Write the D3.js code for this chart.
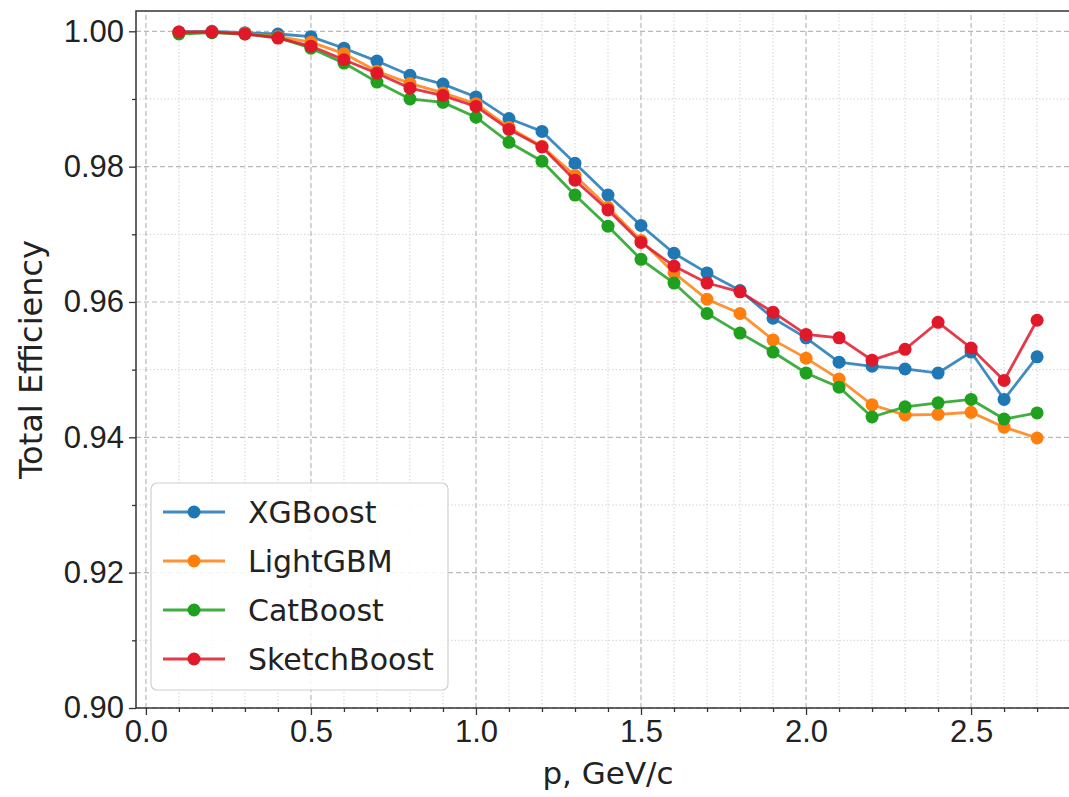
<!DOCTYPE html>
<html>
<head>
<meta charset="utf-8">
<script src="https://cdn.jsdelivr.net/npm/d3@7"></script>
<style>
  body { margin: 0; background: #fff; }
  svg { display: block; font-family: "DejaVu Sans", sans-serif; }
</style>
</head>
<body>
<div class="o"></div>
<script>
const pValues = [0.1, 0.2, 0.3, 0.4, 0.5, 0.6, 0.7, 0.8, 0.9, 1.0, 1.1, 1.2, 1.3, 1.4,
  1.5, 1.6, 1.7, 1.8, 1.9, 2.0, 2.1, 2.2, 2.3, 2.4, 2.5, 2.6, 2.7]

const xgboost = [0.9999, 1.0000, 0.9998, 0.9996, 0.9992, 0.9975, 0.9956, 0.9935, 0.9922, 0.9903,
  0.9871, 0.9852, 0.9805, 0.9758, 0.9713, 0.9672, 0.9643, 0.9617, 0.9576, 0.9547,
  0.9511, 0.9505, 0.9501, 0.9495, 0.9526, 0.9456, 0.9519]
const lightgbm = [0.9998, 0.9999, 0.9997, 0.9992, 0.9984, 0.9967, 0.9941, 0.9923, 0.9909, 0.9893,
  0.9858, 0.9830, 0.9787, 0.9740, 0.9691, 0.9643, 0.9604, 0.9583, 0.9544, 0.9517,
  0.9486, 0.9448, 0.9433, 0.9434, 0.9437, 0.9415, 0.9399]
const catboost = [0.9996, 0.9998, 0.9996, 0.9991, 0.9975, 0.9953, 0.9925, 0.9900, 0.9895, 0.9873,
  0.9836, 0.9808, 0.9758, 0.9712, 0.9663, 0.9628, 0.9583, 0.9554, 0.9526, 0.9495,
  0.9474, 0.9430, 0.9445, 0.9451, 0.9456, 0.9427, 0.9436]
const sketchboost = [0.9999, 0.9999, 0.9996, 0.9990, 0.9978, 0.9958, 0.9938, 0.9916, 0.9905, 0.9889,
  0.9855, 0.9829, 0.9780, 0.9736, 0.9688, 0.9653, 0.9628, 0.9615, 0.9585, 0.9552,
  0.9547, 0.9514, 0.9530, 0.9570, 0.9532, 0.9484, 0.9573]

const seriesNames = ["XGBoost", "LightGBM", "CatBoost", "SketchBoost"]
const seriesColors = ["#1f77b4", "#ff7f0e", "#1fa01f", "#e0182a"]
const xTicks = [0.0, 0.5, 1.0, 1.5, 2.0, 2.5]
const yTicks = [0.90, 0.92, 0.94, 0.96, 0.98, 1.00]

const width = 1069
const height = 797
const margin = {left: 136, top: 11, right: -11, bottom: 89}

const series = [xgboost, lightgbm, catboost, sketchboost].map((vals, i) => ({
  name: seriesNames[i],
  color: seriesColors[i],
  points: vals.map((v, j) => ({p: pValues[j], v: v}))
}))

const xScale = d3.scaleLinear()
  .domain([-0.03, 2.83])
  .range([margin.left, width - margin.right])

const yScale = d3.scaleLinear()
  .domain([0.90, 1.003])
  .range([height - margin.bottom, margin.top])

const svg = d3.select(".o").append("svg")
  .attr("width", width)
  .attr("height", height)

const plot = svg.append("g")

// minor grid
const xMinor = d3.range(0, 29).map(d => d / 10).filter(d => d % 0.5 > 1e-6 && 0.5 - d % 0.5 > 1e-6)
const yMinor = d3.range(90, 101).map(d => d / 100).filter((d, i) => i % 2 == 1)

plot.selectAll(".xminor")
  .data(xMinor)
  .join("line")
    .attr("x1", d => xScale(d)).attr("x2", d => xScale(d))
    .attr("y1", yScale.range()[0]).attr("y2", yScale.range()[1])
    .attr("stroke", "#d4d4d4")
    .attr("stroke-width", 1)
    .attr("stroke-dasharray", "1.5,2")

plot.selectAll(".yminor")
  .data(yMinor)
  .join("line")
    .attr("x1", xScale.range()[0]).attr("x2", xScale.range()[1])
    .attr("y1", d => yScale(d)).attr("y2", d => yScale(d))
    .attr("stroke", "#d4d4d4")
    .attr("stroke-width", 1)
    .attr("stroke-dasharray", "1.5,2")

// major grid
plot.selectAll(".xmajor")
  .data(xTicks)
  .join("line")
    .attr("x1", d => xScale(d)).attr("x2", d => xScale(d))
    .attr("y1", yScale.range()[0]).attr("y2", yScale.range()[1])
    .attr("stroke", "#b8b8b8")
    .attr("stroke-width", 1.2)
    .attr("stroke-dasharray", "5,3")

plot.selectAll(".ymajor")
  .data(yTicks)
  .join("line")
    .attr("x1", xScale.range()[0]).attr("x2", xScale.range()[1])
    .attr("y1", d => yScale(d)).attr("y2", d => yScale(d))
    .attr("stroke", "#b8b8b8")
    .attr("stroke-width", 1.2)
    .attr("stroke-dasharray", "5,3")

// lines and markers
const line = d3.line()
  .x(d => xScale(d.p))
  .y(d => yScale(d.v))

series.forEach(s => {
  const g = plot.append("g")
  g.append("path")
    .datum(s.points)
    .attr("d", line)
    .attr("fill", "none")
    .attr("stroke", s.color)
    .attr("stroke-width", 2.8)
    .attr("stroke-opacity", 0.85)
  g.selectAll("circle")
    .data(s.points)
    .join("circle")
      .attr("cx", d => xScale(d.p))
      .attr("cy", d => yScale(d.v))
      .attr("r", 6.5)
      .attr("fill", s.color)
})

// axes
const xAxis = d3.axisBottom(xScale)
  .tickValues(xTicks)
  .tickFormat(d3.format(".1f"))
  .tickSize(7)
  .tickPadding(5)

const xAxisMinor = d3.axisBottom(xScale)
  .tickValues(xMinor)
  .tickFormat("")
  .tickSize(4)

const yAxis = d3.axisLeft(yScale)
  .tickValues(yTicks)
  .tickFormat(d3.format(".2f"))
  .tickSize(7)
  .tickPadding(5)

const yAxisMinor = d3.axisLeft(yScale)
  .tickValues(yMinor)
  .tickFormat("")
  .tickSize(4)

const styleAxis = g => {
  g.select(".domain").remove()
  g.selectAll("line").attr("stroke", "#333").attr("stroke-width", 1.3)
  g.selectAll("text").attr("fill", "#222").style("font-size", "31px")
}

svg.append("g")
  .attr("transform", `translate(0,${yScale.range()[0]})`)
  .call(xAxis).call(styleAxis)
svg.append("g")
  .attr("transform", `translate(0,${yScale.range()[0]})`)
  .call(xAxisMinor).call(styleAxis)
svg.append("g")
  .attr("transform", `translate(${xScale.range()[0]},0)`)
  .call(yAxis).call(styleAxis)
svg.append("g")
  .attr("transform", `translate(${xScale.range()[0]},0)`)
  .call(yAxisMinor).call(styleAxis)

// frame
svg.append("rect")
  .attr("x", xScale.range()[0])
  .attr("y", yScale.range()[1])
  .attr("width", xScale.range()[1] - xScale.range()[0])
  .attr("height", yScale.range()[0] - yScale.range()[1])
  .attr("fill", "none")
  .attr("stroke", "#333")
  .attr("stroke-width", 1.5)

// axis labels
svg.append("text")
  .attr("x", (xScale.range()[0] + xScale.range()[1]) / 2)
  .attr("y", 784)
  .attr("text-anchor", "middle")
  .attr("fill", "#222")
  .style("font-size", "31px")
  .text("p, GeV/c")

svg.append("text")
  .attr("transform", `translate(42,${(yScale.range()[0] + yScale.range()[1]) / 2}) rotate(-90)`)
  .attr("text-anchor", "middle")
  .attr("fill", "#222")
  .style("font-size", "32px")
  .text("Total Efficiency")

// legend
const legend = svg.append("g").attr("transform", "translate(151,483)")
legend.append("rect")
  .attr("width", 297)
  .attr("height", 207)
  .attr("rx", 6)
  .attr("fill", "#fff")
  .attr("fill-opacity", 0.85)
  .attr("stroke", "#d0d0d0")
  .attr("stroke-width", 1.2)

const entry = legend.selectAll(".entry")
  .data(series)
  .join("g")
    .attr("transform", (d, i) => `translate(0,${29 + i * 49})`)

entry.append("line")
  .attr("x1", 12).attr("x2", 74)
  .attr("stroke", d => d.color)
  .attr("stroke-width", 2.8)
  .attr("stroke-opacity", 0.85)
entry.append("circle")
  .attr("cx", 43)
  .attr("r", 6.5)
  .attr("fill", d => d.color)
entry.append("text")
  .attr("x", 97)
  .attr("dy", "0.36em")
  .attr("fill", "#222")
  .style("font-size", "30px")
  .text(d => d.name)
</script>
</body>
</html>
